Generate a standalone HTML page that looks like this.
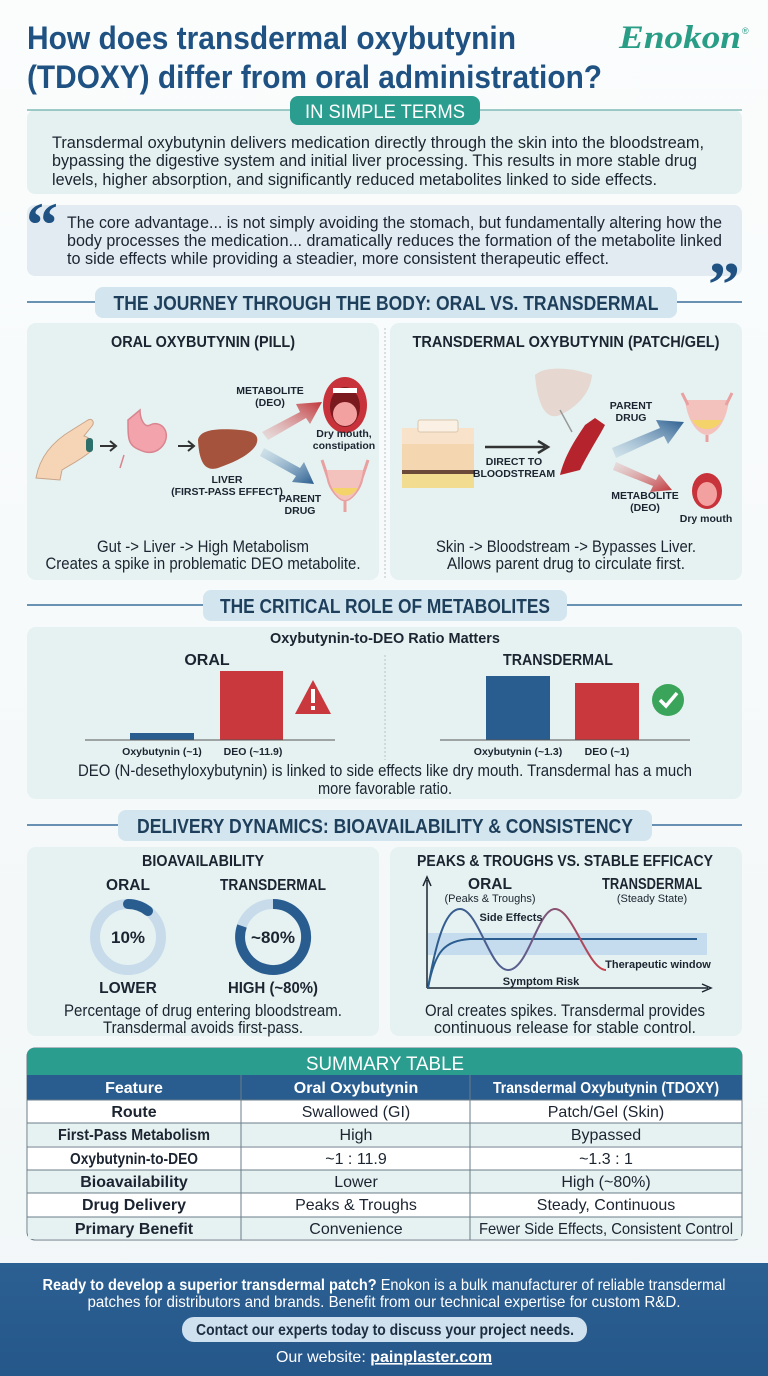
<!DOCTYPE html>
<html><head><meta charset="utf-8"><style>
html,body{margin:0;padding:0;background:#f7fbfb;}
svg{display:block;font-family:"Liberation Sans Narrow","Liberation Sans",sans-serif;}
.b{font-weight:bold;}
</style></head><body>
<svg width="768" height="1376" viewBox="0 0 768 1376" xmlns="http://www.w3.org/2000/svg">
<defs>
<linearGradient id="bg" x1="0" y1="0" x2="0" y2="1"><stop offset="0" stop-color="#fbfdfd"/><stop offset="1" stop-color="#f1f6f7"/></linearGradient>
<linearGradient id="foot" x1="0" y1="0" x2="0" y2="1"><stop offset="0" stop-color="#2c5f92"/><stop offset="1" stop-color="#25578a"/></linearGradient>
<linearGradient id="ra" x1="0" y1="1" x2="1" y2="0"><stop offset="0" stop-color="#e8b0b0" stop-opacity=".3"/><stop offset="1" stop-color="#c0353a"/></linearGradient>
<linearGradient id="ba" x1="0" y1="0" x2="1" y2="1"><stop offset="0" stop-color="#a8c4dc" stop-opacity=".3"/><stop offset="1" stop-color="#2a5d8f"/></linearGradient>
<linearGradient id="ba2" x1="0" y1="1" x2="1" y2="0"><stop offset="0" stop-color="#a8c4dc" stop-opacity=".3"/><stop offset="1" stop-color="#2a5d8f"/></linearGradient>
<linearGradient id="ra2" x1="0" y1="0" x2="1" y2="1"><stop offset="0" stop-color="#e8b0b0" stop-opacity=".3"/><stop offset="1" stop-color="#c0353a"/></linearGradient>
<linearGradient id="osc" x1="0" y1="0" x2="1" y2="0"><stop offset="0" stop-color="#2a5d8f"/><stop offset=".5" stop-color="#5a5f90"/><stop offset="1" stop-color="#c9404a"/></linearGradient>
</defs>
<rect width="768" height="1376" fill="url(#bg)"/>

<!-- Title -->
<text x="27" y="49" class="b" font-size="32" fill="#1f5282" textLength="489" lengthAdjust="spacingAndGlyphs">How does transdermal oxybutynin</text>
<text x="27" y="88" class="b" font-size="32" fill="#1f5282" textLength="575" lengthAdjust="spacingAndGlyphs">(TDOXY) differ from oral administration?</text>
<text x="619" y="48" font-family="Liberation Serif,serif" font-style="italic" font-weight="bold" font-size="33" fill="#2a9d86" textLength="122" lengthAdjust="spacingAndGlyphs">Enokon</text>
<text x="742" y="34" font-size="9" fill="#2a9d86">®</text>

<!-- Simple terms -->
<rect x="27" y="110" width="715" height="84" rx="8" fill="#e5f1f0"/>
<line x1="27" y1="110" x2="742" y2="110" stroke="#7fb9b5" stroke-width="1.5"/>
<rect x="290" y="96" width="190" height="29" rx="8" fill="#2a9d8f"/>
<text x="385" y="118" text-anchor="middle" font-size="19" fill="#fff" textLength="160" lengthAdjust="spacingAndGlyphs">IN SIMPLE TERMS</text>
<g font-size="17" fill="#1b2430">
<text x="52" y="148" textLength="652" lengthAdjust="spacingAndGlyphs">Transdermal oxybutynin delivers medication directly through the skin into the bloodstream,</text>
<text x="52" y="166" textLength="645" lengthAdjust="spacingAndGlyphs">bypassing the digestive system and initial liver processing. This results in more stable drug</text>
<text x="52" y="185" textLength="605" lengthAdjust="spacingAndGlyphs">levels, higher absorption, and significantly reduced metabolites linked to side effects.</text>
</g>

<!-- Quote -->
<rect x="27" y="205" width="715" height="71" rx="8" fill="#e2eaf2"/>
<text x="26" y="246" font-family="Liberation Serif,serif" font-weight="bold" font-size="64" fill="#1f5282">“</text>
<text x="708" y="306" font-family="Liberation Serif,serif" font-weight="bold" font-size="64" fill="#1f5282">”</text>
<g font-size="17" fill="#1b2430">
<text x="67" y="228" textLength="655" lengthAdjust="spacingAndGlyphs">The core advantage... is not simply avoiding the stomach, but fundamentally altering how the</text>
<text x="67" y="246" textLength="655" lengthAdjust="spacingAndGlyphs">body processes the medication... dramatically reduces the formation of the metabolite linked</text>
<text x="67" y="264" textLength="542" lengthAdjust="spacingAndGlyphs">to side effects while providing a steadier, more consistent therapeutic effect.</text>
</g>

<!-- Section 1 header -->
<line x1="27" y1="302" x2="742" y2="302" stroke="#3a6e9a" stroke-width="1.5"/>
<rect x="95" y="287" width="582" height="31" rx="8" fill="#d3e5ee"/>
<text x="386" y="310" text-anchor="middle" class="b" font-size="20" fill="#1e3f5c" textLength="545" lengthAdjust="spacingAndGlyphs">THE JOURNEY THROUGH THE BODY: ORAL VS. TRANSDERMAL</text>

<rect x="27" y="323" width="352" height="257" rx="9" fill="#e5f2f1"/>
<rect x="390" y="323" width="352" height="257" rx="9" fill="#e5f2f1"/>
<line x1="385" y1="328" x2="385" y2="578" stroke="#b9c2c6" stroke-dasharray="2,2"/>
<text x="203" y="347" text-anchor="middle" class="b" font-size="16" fill="#1b2430" textLength="184" lengthAdjust="spacingAndGlyphs">ORAL OXYBUTYNIN (PILL)</text>
<text x="566" y="347" text-anchor="middle" class="b" font-size="16" fill="#1b2430" textLength="307" lengthAdjust="spacingAndGlyphs">TRANSDERMAL OXYBUTYNIN (PATCH/GEL)</text>

<!-- Oral illustration -->
<path d="M36 478 C40 455 55 440 72 430 L88 420 C92 418 95 422 92 426 L84 436 C92 438 95 446 90 452 C80 460 70 465 62 470 L60 480 Z" fill="#f6d4b6" stroke="#c9a58a"/>
<rect x="86" y="438" width="7" height="14" rx="3" fill="#2d6f6a"/>
<path d="M100 446 H115 M110 441 L116 446 L110 451" stroke="#333" stroke-width="2" fill="none"/>
<path d="M128 420 C128 440 128 445 140 450 C150 455 160 452 165 442 C170 430 160 420 150 425 C145 428 140 420 140 410 Z M124 455 L120 468" fill="#f2a3ab" stroke="#d98590" stroke-width="1.5"/>
<path d="M178 446 H193 M188 441 L194 446 L188 451" stroke="#333" stroke-width="2" fill="none"/>
<path d="M198 440 C200 430 215 428 240 430 C255 431 260 436 256 445 C250 455 235 462 218 468 C205 472 199 462 198 440 Z" fill="#a5533d"/>
<path d="M262 432 L300 412 L296 404 L322 402 L310 424 L306 418 L268 440 Z" fill="url(#ra)"/>
<path d="M264 448 L300 468 L304 462 L314 484 L292 482 L296 476 L260 456 Z" fill="url(#ba)"/>
<ellipse cx="345" cy="405" rx="22" ry="28" fill="#c8323a"/>
<ellipse cx="345" cy="407" rx="15" ry="20" fill="#7a1a1f"/>
<ellipse cx="345" cy="414" rx="12" ry="12" fill="#f2a0a0"/>
<rect x="333" y="388" width="24" height="5" fill="#fff"/>
<path d="M322 460 L328 478 C330 490 340 500 345 500 L345 512 M368 460 L362 478 C360 490 350 500 345 500" stroke="#e8a0a0" stroke-width="3" fill="none"/>
<path d="M327 470 C330 492 340 500 345 500 C350 500 360 492 363 470 Z" fill="#f4c2bd"/>
<path d="M332 488 C338 498 352 498 358 488 Z" fill="#f3d36a"/>
<g class="b" font-size="10.5" fill="#1b2430" text-anchor="middle">
<text x="270" y="394">METABOLITE</text><text x="270" y="406">(DEO)</text>
<text x="344" y="437">Dry mouth,</text><text x="344" y="449">constipation</text>
<text x="227" y="483">LIVER</text><text x="227" y="495">(FIRST-PASS EFFECT)</text>
<text x="300" y="502">PARENT</text><text x="300" y="514">DRUG</text>
</g>
<g font-size="17" fill="#1b2430" text-anchor="middle">
<text x="203" y="552" textLength="212" lengthAdjust="spacingAndGlyphs">Gut -&gt; Liver -&gt; High Metabolism</text>
<text x="203" y="569" textLength="315" lengthAdjust="spacingAndGlyphs">Creates a spike in problematic DEO metabolite.</text>
<text x="566" y="552" textLength="260" lengthAdjust="spacingAndGlyphs">Skin -&gt; Bloodstream -&gt; Bypasses Liver.</text>
<text x="566" y="569" textLength="238" lengthAdjust="spacingAndGlyphs">Allows parent drug to circulate first.</text>
</g>

<!-- Transdermal illustration -->
<rect x="402" y="428" width="72" height="60" fill="#f4d6b0"/>
<rect x="402" y="428" width="72" height="16" fill="#f8e2c9"/>
<rect x="418" y="420" width="40" height="12" rx="2" fill="#faf1e4" stroke="#d9c6ab"/>
<rect x="402" y="470" width="72" height="4" fill="#6b4a3a"/>
<rect x="402" y="474" width="72" height="14" fill="#f1dc8f"/>
<path d="M485 447 H545 M538 441 L548 447 L538 453" stroke="#333" stroke-width="2.5" fill="none"/>
<path d="M535 375 C545 365 575 368 592 375 C590 395 575 408 560 415 C548 420 538 410 535 375 Z" fill="#e6cfc8" opacity=".8"/>
<path d="M560 410 L572 432" stroke="#999" stroke-width="1.5"/>
<path d="M560 475 C565 455 575 440 585 425 L595 418 L605 425 C600 435 590 450 580 470 Z" fill="#b5242c"/>
<path d="M612 448 L660 428 L656 420 L684 422 L668 444 L664 436 L616 458 Z" fill="url(#ba2)"/>
<path d="M616 462 L656 480 L659 474 L672 490 L650 492 L653 486 L613 470 Z" fill="url(#ra2)"/>
<path d="M685 400 C688 425 700 435 707 435 C714 435 726 425 729 400 Z" fill="#f4c2bd"/>
<path d="M692 420 C698 432 716 432 722 420 Z" fill="#f3d36a"/>
<path d="M682 393 L688 405 M732 393 L726 405 M707 435 L707 442" stroke="#e8a0a0" stroke-width="3"/>
<ellipse cx="707" cy="491" rx="15" ry="18" fill="#c8323a"/>
<ellipse cx="707" cy="494" rx="10" ry="12" fill="#f2a0a0"/>
<g class="b" font-size="10.5" fill="#1b2430" text-anchor="middle">
<text x="514" y="465">DIRECT TO</text><text x="514" y="477">BLOODSTREAM</text>
<text x="631" y="409">PARENT</text><text x="631" y="421">DRUG</text>
<text x="645" y="499">METABOLITE</text><text x="645" y="511">(DEO)</text>
<text x="706" y="522">Dry mouth</text>
</g>

<!-- Section 2 -->
<line x1="27" y1="605" x2="742" y2="605" stroke="#3a6e9a" stroke-width="1.5"/>
<rect x="203" y="590" width="364" height="31" rx="8" fill="#d3e5ee"/>
<text x="385" y="613" text-anchor="middle" class="b" font-size="20" fill="#1e3f5c" textLength="330" lengthAdjust="spacingAndGlyphs">THE CRITICAL ROLE OF METABOLITES</text>
<rect x="27" y="627" width="715" height="172" rx="9" fill="#e5f2f1"/>
<text x="385" y="643" text-anchor="middle" class="b" font-size="15" fill="#1b2430" textLength="230" lengthAdjust="spacingAndGlyphs">Oxybutynin-to-DEO Ratio Matters</text>
<text x="207" y="665" text-anchor="middle" class="b" font-size="16" fill="#1b2430">ORAL</text>
<text x="558" y="665" text-anchor="middle" class="b" font-size="16" fill="#1b2430" textLength="110" lengthAdjust="spacingAndGlyphs">TRANSDERMAL</text>
<line x1="385" y1="655" x2="385" y2="760" stroke="#b9c2c6" stroke-dasharray="2,2"/>
<rect x="130" y="733" width="64" height="7" fill="#2a5d8f"/>
<rect x="220" y="671" width="63" height="69" fill="#c9383d"/>
<line x1="85" y1="740" x2="335" y2="740" stroke="#555"/>
<path d="M313 680 L331 714 L295 714 Z" fill="#c9383d"/>
<rect x="311" y="689" width="4" height="14" fill="#fff"/><rect x="311" y="706" width="4" height="4" fill="#fff"/>
<rect x="486" y="676" width="64" height="64" fill="#2a5d8f"/>
<rect x="575" y="683" width="64" height="57" fill="#c9383d"/>
<line x1="440" y1="740" x2="690" y2="740" stroke="#555"/>
<circle cx="668" cy="700" r="16" fill="#3aa55a"/>
<path d="M660 700 L666 706 L677 693" stroke="#fff" stroke-width="3.5" fill="none"/>
<g class="b" font-size="10.5" fill="#1b2430" text-anchor="middle">
<text x="162" y="755">Oxybutynin (~1)</text><text x="253" y="755">DEO (~11.9)</text>
<text x="518" y="755">Oxybutynin (~1.3)</text><text x="607" y="755">DEO (~1)</text>
</g>
<text x="385" y="776" text-anchor="middle" font-size="17" fill="#1b2430" textLength="614" lengthAdjust="spacingAndGlyphs">DEO (N-desethyloxybutynin) is linked to side effects like dry mouth. Transdermal has a much</text>
<text x="385" y="794" text-anchor="middle" font-size="17" fill="#1b2430" textLength="134" lengthAdjust="spacingAndGlyphs">more favorable ratio.</text>

<!-- Section 3 -->
<line x1="27" y1="825" x2="742" y2="825" stroke="#3a6e9a" stroke-width="1.5"/>
<rect x="118" y="810" width="534" height="31" rx="8" fill="#d3e5ee"/>
<text x="385" y="833" text-anchor="middle" class="b" font-size="20" fill="#1e3f5c" textLength="496" lengthAdjust="spacingAndGlyphs">DELIVERY DYNAMICS: BIOAVAILABILITY &amp; CONSISTENCY</text>
<rect x="27" y="847" width="352" height="189" rx="9" fill="#e5f2f1"/>
<rect x="390" y="847" width="352" height="189" rx="9" fill="#e5f2f1"/>
<g class="b" font-size="15.5" fill="#1b2430" text-anchor="middle">
<text x="203" y="866" textLength="122" lengthAdjust="spacingAndGlyphs">BIOAVAILABILITY</text>
<text x="128" y="890">ORAL</text>
<text x="273" y="890" textLength="106" lengthAdjust="spacingAndGlyphs">TRANSDERMAL</text>
<text x="128" y="993">LOWER</text>
<text x="273" y="993" textLength="90" lengthAdjust="spacingAndGlyphs">HIGH (~80%)</text>
<text x="565" y="866" textLength="296" lengthAdjust="spacingAndGlyphs">PEAKS &amp; TROUGHS VS. STABLE EFFICACY</text>
<text x="490" y="889">ORAL</text>
<text x="652" y="889" textLength="100" lengthAdjust="spacingAndGlyphs">TRANSDERMAL</text>
</g>
<circle cx="128" cy="937" r="33" fill="none" stroke="#c8dbeb" stroke-width="10"/>
<path d="M128 904 A33 33 0 0 1 148 911" fill="none" stroke="#2a5d8f" stroke-width="10" stroke-linecap="round"/>
<circle cx="273" cy="937" r="33" fill="none" stroke="#c8dbeb" stroke-width="10"/>
<path d="M273 904 A33 33 0 1 1 242 926" fill="none" stroke="#2a5d8f" stroke-width="10"/>
<text x="128" y="943" text-anchor="middle" class="b" font-size="17" fill="#1b2430">10%</text>
<text x="273" y="943" text-anchor="middle" class="b" font-size="17" fill="#1b2430">~80%</text>
<g font-size="17" fill="#1b2430" text-anchor="middle">
<text x="203" y="1016" textLength="278" lengthAdjust="spacingAndGlyphs">Percentage of drug entering bloodstream.</text>
<text x="203" y="1033" textLength="200" lengthAdjust="spacingAndGlyphs">Transdermal avoids first-pass.</text>
<text x="565" y="1016" textLength="280" lengthAdjust="spacingAndGlyphs">Oral creates spikes. Transdermal provides</text>
<text x="565" y="1033" textLength="262" lengthAdjust="spacingAndGlyphs">continuous release for stable control.</text>
</g>
<rect x="428" y="933" width="279" height="22" fill="#c5dbee"/>
<path d="M427 988 V880 M423 886 L427 877 L431 886" stroke="#1b2430" stroke-width="1.5" fill="none"/>
<path d="M427 988 H708 M702 984 L711 988 L702 992" stroke="#1b2430" stroke-width="1.5" fill="none"/>
<path d="M428 988 C435 950 445 941 470 939 L697 939" stroke="#2a5d8f" stroke-width="2" fill="none"/>
<path d="M428 988 C438 930 448 909 460 909 C478 909 490 970 508 970 C528 970 538 909 555 909 C573 909 588 970 606 970" stroke="url(#osc)" stroke-width="2" fill="none"/>
<g font-size="11" fill="#1b2430" text-anchor="middle">
<text x="490" y="902">(Peaks &amp; Troughs)</text>
<text x="652" y="902">(Steady State)</text>
<text x="511" y="921" class="b">Side Effects</text>
<text x="541" y="985" class="b">Symptom Risk</text>
<text x="658" y="968" class="b">Therapeutic window</text>
</g>

<!-- Summary table -->
<rect x="27" y="1048" width="715" height="192" rx="8" fill="#fff" stroke="#6b7d88"/>
<path d="M27 1075 V1056 Q27 1048 35 1048 H734 Q742 1048 742 1056 V1075 Z" fill="#2a9d8f"/>
<text x="385" y="1070" text-anchor="middle" font-size="19" fill="#fff" textLength="158" lengthAdjust="spacingAndGlyphs">SUMMARY TABLE</text>
<rect x="27" y="1075" width="715" height="25" fill="#2a5d8f"/>
<rect x="28" y="1123" width="713" height="23" fill="#e6f1f1"/>
<rect x="28" y="1170" width="713" height="23" fill="#e6f1f1"/>
<rect x="28" y="1217" width="713" height="22" fill="#e6f1f1"/>
<g stroke="#6b7d88" stroke-width="1">
<line x1="27" y1="1100" x2="742" y2="1100"/><line x1="27" y1="1123" x2="742" y2="1123"/>
<line x1="27" y1="1147" x2="742" y2="1147"/><line x1="27" y1="1170" x2="742" y2="1170"/>
<line x1="27" y1="1193" x2="742" y2="1193"/><line x1="27" y1="1217" x2="742" y2="1217"/>
<line x1="241" y1="1075" x2="241" y2="1240"/><line x1="470" y1="1075" x2="470" y2="1240"/>
</g>
<g font-size="16" text-anchor="middle" fill="#fff" class="b">
<text x="134" y="1093">Feature</text><text x="356" y="1093">Oral Oxybutynin</text><text x="606" y="1093" textLength="226" lengthAdjust="spacingAndGlyphs">Transdermal Oxybutynin (TDOXY)</text>
</g>
<g font-size="16" text-anchor="middle" fill="#1b2430">
<text x="134" y="1117" class="b">Route</text><text x="356" y="1117">Swallowed (GI)</text><text x="606" y="1117">Patch/Gel (Skin)</text>
<text x="134" y="1140" class="b" textLength="152" lengthAdjust="spacingAndGlyphs">First-Pass Metabolism</text><text x="356" y="1140">High</text><text x="606" y="1140">Bypassed</text>
<text x="134" y="1164" class="b" textLength="128" lengthAdjust="spacingAndGlyphs">Oxybutynin-to-DEO</text><text x="356" y="1164">~1 : 11.9</text><text x="606" y="1164">~1.3 : 1</text>
<text x="134" y="1187" class="b">Bioavailability</text><text x="356" y="1187">Lower</text><text x="606" y="1187">High (~80%)</text>
<text x="134" y="1210" class="b">Drug Delivery</text><text x="356" y="1210">Peaks &amp; Troughs</text><text x="606" y="1210">Steady, Continuous</text>
<text x="134" y="1234" class="b">Primary Benefit</text><text x="356" y="1234">Convenience</text><text x="606" y="1234" textLength="254" lengthAdjust="spacingAndGlyphs">Fewer Side Effects, Consistent Control</text>
</g>

<!-- Footer -->
<rect x="0" y="1263" width="768" height="113" fill="url(#foot)"/>
<text x="384" y="1290" text-anchor="middle" font-size="16" fill="#fff" textLength="683" lengthAdjust="spacingAndGlyphs"><tspan class="b">Ready to develop a superior transdermal patch?</tspan> Enokon is a bulk manufacturer of reliable transdermal</text>
<text x="384" y="1307" text-anchor="middle" font-size="16" fill="#fff" textLength="593" lengthAdjust="spacingAndGlyphs">patches for distributors and brands. Benefit from our technical expertise for custom R&amp;D.</text>
<rect x="182" y="1317" width="405" height="25" rx="12" fill="#cfe0ee"/>
<text x="385" y="1335" text-anchor="middle" class="b" font-size="16" fill="#1b2d40" textLength="378" lengthAdjust="spacingAndGlyphs">Contact our experts today to discuss your project needs.</text>
<text x="384" y="1362" text-anchor="middle" font-size="16" fill="#fff">Our website: <tspan class="b" text-decoration="underline">painplaster.com</tspan></text>
</svg>
</body></html>
